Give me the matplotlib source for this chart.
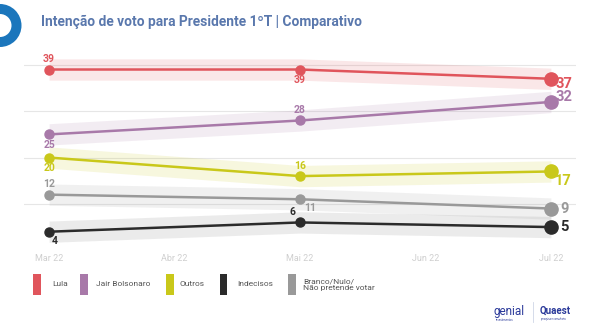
import matplotlib
matplotlib.use("Agg")
import matplotlib.pyplot as plt
from matplotlib.patches import Rectangle, Ellipse
import numpy as np

plt.rcParams['font.family'] = ['Roboto', 'DejaVu Sans']

months = ["Mar 22", "Abr 22", "Mai 22", "Jun 22", "Jul 22"]
survey_idx = [0, 2, 4]
series_names = ["Lula", "Jair Bolsonaro", "Outros", "Indecisos", "Branco/Nulo/\nNão pretende votar"]
lula = [39, 39, 37]
bolsonaro = [25, 28, 32]
outros = [20, 16, 17]
indecisos = [4, 6, 5]
branco = [12, 11, 9]
colors = ["#e0555c", "#a879a9", "#c9c81a", "#2b2b2b", "#999999"]
band_alpha = [0.14, 0.14, 0.14, 0.09, 0.14]
margin = 2.3

data = [lula, bolsonaro, outros, indecisos, branco]

fig = plt.figure(figsize=(6, 3.35), dpi=100)
ax = fig.add_axes([0.04, 0.253, 0.92, 0.581])
ax.set_xlim(-0.2, 4.2)
ax.set_ylim(0, 42)
for s in ax.spines.values():
    s.set_visible(False)
ax.set_yticks([10, 20, 30, 40])
ax.yaxis.grid(True, color="#e6e6e6", lw=0.8)
ax.tick_params(axis='y', length=0, labelleft=False)
ax.set_xticks(range(len(months)))
ax.set_xticklabels(months, color="#cfcfcf", fontsize=6.5)
ax.tick_params(axis='x', length=0, pad=3)
ax.set_axisbelow(True)

offsets = {
    0: [(0, 4, 'center', 'bottom'), (0, -4, 'center', 'top')],
    1: [(0, -4, 'center', 'top'), (0, 4, 'center', 'bottom')],
    2: [(0, -4, 'center', 'top'), (0, 4, 'center', 'bottom')],
    3: [(2, -3, 'left', 'top'), (-3, 4, 'right', 'bottom')],
    4: [(0, 4, 'center', 'bottom'), (3, -3, 'left', 'top')],
}
jul_off = {0: (3, -3.5, 'left', 'center'), 1: (3, 3.5, 'left', 'center'),
           2: (3, -7, 'left', 'center'), 3: (7, 0, 'left', 'center'),
           4: (7, 0, 'left', 'center')}

for i, (vals, c) in enumerate(zip(data, colors)):
    v = np.array(vals, dtype=float)
    ax.fill_between(survey_idx, v - margin, v + margin, color=c, alpha=band_alpha[i], lw=0, zorder=1)
    ax.plot(survey_idx, v, color=c, lw=1.8, zorder=3)
    ax.plot(survey_idx[:2], v[:2], 'o', color=c, ms=6.5, zorder=4)
    ax.plot(survey_idx[2:], v[2:], 'o', color=c, ms=9.5, zorder=4)
    for j in range(2):
        dx, dy, ha, va = offsets[i][j]
        ax.annotate(str(vals[j]), (survey_idx[j], vals[j]), xytext=(dx, dy),
                    textcoords='offset points', ha=ha, va=va, color=c,
                    fontsize=7.5, fontweight='bold')
    dx, dy, ha, va = jul_off[i]
    ax.annotate(str(vals[2]), (survey_idx[2], vals[2]), xytext=(dx, dy),
                textcoords='offset points', ha=ha, va=va, color=c,
                fontsize=10.5, fontweight='bold')

# title
fig.text(0.069, 0.935, "Intenção de voto para Presidente 1ºT | Comparativo",
         color="#5a78ad", fontsize=9.9, fontweight='bold', va='center', ha='left')

# logo ring top-left
cx, cy = 0 / 600, 1 - 25.5 / 335
fig.patches.append(Ellipse((cx, cy), 43 / 600, 43 / 335, transform=fig.transFigure,
                           color="#1b76bc", lw=0))
fig.patches.append(Ellipse((cx, cy), 23 / 600, 23 / 335, transform=fig.transFigure,
                           color="white", lw=0))

# legend
leg_x = [33, 80, 166, 220, 288]
lab_x = [52, 96, 180, 237, 303]
for name, c, x, lx in zip(series_names, colors, leg_x, lab_x):
    fig.patches.append(Rectangle((x / 600, 1 - 295 / 335), 7.5 / 600, 21 / 335,
                                 transform=fig.transFigure, color=c, lw=0))
    fig.text(lx / 600, 1 - 284.5 / 335, name, color="#555555", fontsize=6,
             va='center', ha='left', linespacing=1.05)

# bottom-right logos
fig.text(493 / 600, 1 - 312 / 335, "genial", color="#2b3a9a", fontsize=8.5, va='center', ha='left')
fig.text(496 / 600, 1 - 320 / 335, "investimentos", color="#2b3a9a", fontsize=2, va='center', ha='left')
fig.add_artist(plt.Line2D([533 / 600, 533 / 600], [1 - 322 / 335, 1 - 302 / 335], color="#cfd6e6", lw=0.6,
                          transform=fig.transFigure))
fig.text(540 / 600, 1 - 311 / 335, "Quaest", color="#2b3a9a", fontsize=7, fontweight='bold',
         va='center', ha='left')
fig.text(541 / 600, 1 - 319 / 335, "pesquisa e consultoria", color="#2b3a9a", fontsize=1.8,
         va='center', ha='left')

fig.savefig("out.png", dpi=100, facecolor="white")
